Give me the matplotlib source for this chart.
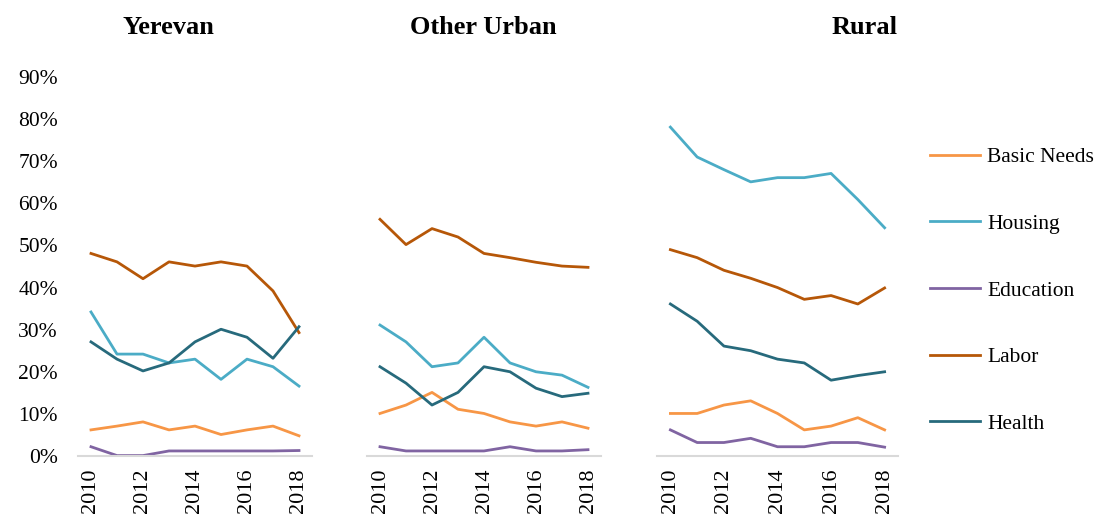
import numpy as np
import matplotlib
matplotlib.use("Agg")
import matplotlib.pyplot as plt

plt.rcParams['font.family'] = ['Liberation Serif', 'DejaVu Serif']

years = [2010, 2011, 2012, 2013, 2014, 2015, 2016, 2017, 2018]
regions = ['Yerevan', 'Other Urban', 'Rural']
categories = ['Basic Needs', 'Housing', 'Education', 'Labor', 'Health']
colors = ['#F79646', '#4BACC6', '#8064A2', '#B65708', '#276A7C']

# shares in percent, one list per region and category
yerevan = {
    'Basic Needs': [6.2, 7.1, 8.1, 6.2, 7.1, 5.1, 6.2, 7.1, 4.8],
    'Housing':     [34.2, 24.2, 24.2, 22.1, 23.0, 18.2, 23.0, 21.2, 16.6],
    'Education':   [2.2, 0.1, 0.1, 1.2, 1.2, 1.2, 1.2, 1.2, 1.3],
    'Labor':       [48.1, 46.1, 42.1, 46.1, 45.1, 46.1, 45.1, 39.2, 29.3],
    'Health':      [27.1, 23.0, 20.2, 22.1, 27.1, 30.1, 28.2, 23.2, 30.7],
}
other_urban = {
    'Basic Needs': [10.1, 12.1, 15.1, 11.1, 10.1, 8.1, 7.1, 8.1, 6.6],
    'Housing':     [31.1, 27.1, 21.2, 22.1, 28.2, 22.1, 20.0, 19.2, 16.3],
    'Education':   [2.2, 1.2, 1.2, 1.2, 1.2, 2.2, 1.2, 1.2, 1.5],
    'Labor':       [56.2, 50.2, 54.0, 52.0, 48.1, 47.1, 46.0, 45.1, 44.8],
    'Health':      [21.2, 17.3, 12.1, 15.1, 21.2, 20.0, 16.1, 14.1, 14.9],
}
rural = {
    'Basic Needs': [10.1, 10.1, 12.1, 13.1, 10.1, 6.2, 7.1, 9.1, 6.2],
    'Housing':     [78.1, 71.0, 68.0, 65.1, 66.1, 66.1, 67.1, 60.9, 54.2],
    'Education':   [6.2, 3.2, 3.2, 4.2, 2.2, 2.2, 3.2, 3.2, 2.1],
    'Labor':       [49.0, 47.1, 44.1, 42.2, 40.0, 37.2, 38.1, 36.1, 39.9],
    'Health':      [36.1, 32.0, 26.1, 25.0, 23.0, 22.1, 18.0, 19.1, 20.0],
}
data = [yerevan, other_urban, rural]

W, H = 1098, 516
fig = plt.figure(figsize=(W / 100, H / 100), dpi=100)

# axes extents in pixels (left, right)
panels = [(78, 312), (367, 601), (657, 898)]
title_x = [168, 483, 865]
bottom_px, top_px = 456, 77

lines = []
for i, (x0, x1) in enumerate(panels):
    ax = fig.add_axes([x0 / W, (H - bottom_px) / H, (x1 - x0) / W, (bottom_px - top_px) / H])
    for cat, col in zip(categories, colors):
        ln, = ax.plot(years, np.array(data[i][cat]) / 100, color=col, lw=2, label=cat)
        if i == 0:
            lines.append(ln)
    ax.set_xlim(2009.5, 2018.5)
    ax.set_ylim(0, 0.9)
    ax.set_xticks([2010, 2012, 2014, 2016, 2018])
    ax.set_xticklabels(['2010', '2012', '2014', '2016', '2018'], rotation=90, fontsize=16)
    ax.set_yticks(np.arange(0, 0.91, 0.1))
    if i == 0:
        ax.set_yticklabels([f'{int(round(v * 100))}%' for v in np.arange(0, 0.91, 0.1)], fontsize=15.5)
    else:
        ax.set_yticklabels([])
    ax.tick_params(length=0)
    ax.tick_params(axis='x', pad=9)
    ax.tick_params(axis='y', pad=14.5)
    for s in ['top', 'right', 'left']:
        ax.spines[s].set_visible(False)
    ax.spines['bottom'].set_color('#d9d9d9')
    ax.spines['bottom'].set_linewidth(1.5)
    ax.set_facecolor('none')
    fig.text(title_x[i] / W, 1 - 28 / H, regions[i], ha='center', va='center',
             fontsize=19, fontweight='bold')

fig.legend(lines, categories, loc='upper left', bbox_to_anchor=(911 / W, 1 - 128 / H),
           frameon=False, fontsize=15.5, handlelength=2.3, labelspacing=2.16,
           handletextpad=0.35)

fig.savefig('out.png', dpi=100)
